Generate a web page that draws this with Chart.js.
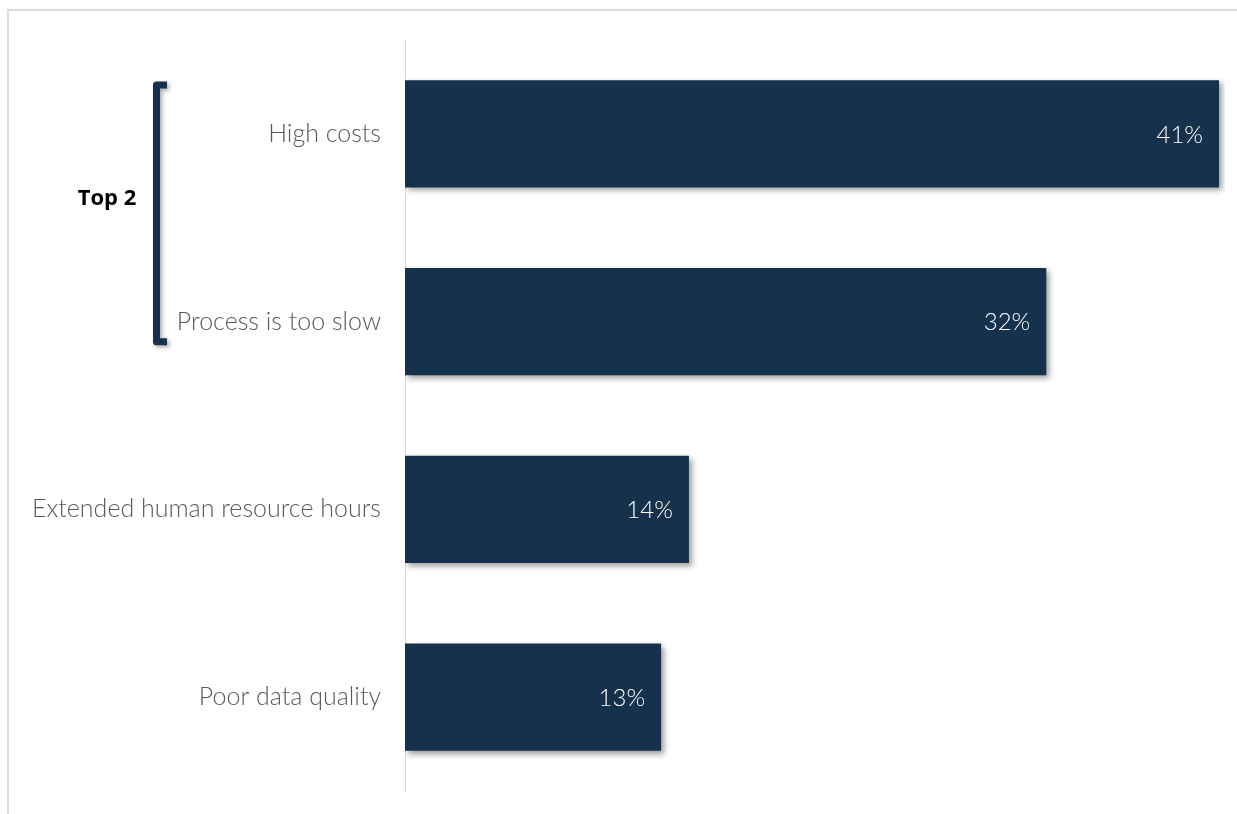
<!DOCTYPE html>
<html>
<head>
<meta charset="utf-8">
<script src="https://cdn.jsdelivr.net/npm/chart.js@4/dist/chart.umd.min.js"></script>
<style>
    html, body { margin: 0; padding: 0; background: #fff; overflow: hidden; }
    #frame { position: absolute; left: 7px; top: 9px; width: 1300px; height: 900px; border: 2px solid #dcdcdc; }
    #wrap { position: absolute; left: 0; top: 0; width: 1237px; height: 814px; }
    canvas { display: block; }
</style>
</head>
<body>
<div id="frame"></div>
<div id="wrap"><canvas id="chart" width="1237" height="814"></canvas></div>
<script>
const categories = ['High costs', 'Process is too slow', 'Extended human resource hours', 'Poor data quality'];
const shares = [41, 32.3, 14.3, 12.9];
const valueLabels = ['41%', '32%', '14%', '13%'];
const groupLabel = 'Top 2';

const navy = '#15314b';
const labelFont = '"Lato", "Open Sans", sans-serif';

// drop shadow under the bars
const shadowPlugin = {
    id: 'shadow',
    beforeDatasetsDraw(chart) {
        const ctx = chart.ctx;
        ctx.save();
        ctx.shadowColor = 'rgba(0,0,0,0.4)';
        ctx.shadowBlur = 6;
        ctx.shadowOffsetX = 3;
        ctx.shadowOffsetY = 3;
    },
    afterDatasetsDraw(chart) {
        chart.ctx.restore();
    }
};

// value labels inside the bar ends
const valuePlugin = {
    id: 'values',
    afterDatasetsDraw(chart) {
        const ctx = chart.ctx;
        const meta = chart.getDatasetMeta(0);
        ctx.save();
        ctx.fillStyle = '#ffffff';
        ctx.font = '300 24px ' + labelFont;
        ctx.textAlign = 'right';
        ctx.textBaseline = 'middle';
        meta.data.forEach((bar, i) => {
            ctx.fillText(valueLabels[i], bar.x - 16, bar.y + 1);
        });
        ctx.restore();
    }
};

// "Top 2" bracket around the first two categories
const bracketPlugin = {
    id: 'bracket',
    afterDraw(chart) {
        const ctx = chart.ctx;
        const y = chart.scales.y;
        const top = y.getPixelForValue(0) - 49;
        const bottom = y.getPixelForValue(1) + 20;
        const x = 156.5, tab = 167;
        ctx.save();
        ctx.shadowColor = 'rgba(0,0,0,0.35)';
        ctx.shadowBlur = 4;
        ctx.shadowOffsetX = 2;
        ctx.shadowOffsetY = 2;
        ctx.strokeStyle = navy;
        ctx.lineWidth = 7;
        ctx.lineJoin = 'round';
        ctx.beginPath();
        ctx.moveTo(tab, top);
        ctx.lineTo(x, top);
        ctx.lineTo(x, bottom);
        ctx.lineTo(tab, bottom);
        ctx.stroke();
        ctx.restore();

        ctx.save();
        ctx.fillStyle = '#000';
        ctx.font = 'bold 22px "Open Sans", sans-serif';
        ctx.textAlign = 'center';
        ctx.textBaseline = 'middle';
        ctx.fillText(groupLabel, 107, (top + bottom) / 2 - 15);
        ctx.restore();
    }
};

new Chart(document.getElementById('chart'), {
    type: 'bar',
    data: {
        labels: categories,
        datasets: [{
            data: shares,
            backgroundColor: navy,
            borderWidth: 0,
            categoryPercentage: 1,
            barPercentage: 0.57
        }]
    },
    options: {
        indexAxis: 'y',
        responsive: false,
        animation: false,
        layout: { padding: { top: 40, bottom: 23, right: 12, left: 0 } },
        plugins: {
            legend: { display: false },
            tooltip: { enabled: false }
        },
        scales: {
            x: {
                display: false,
                min: 0,
                max: 41.3
            },
            y: {
                grid: { display: false, drawTicks: false },
                border: { display: true, color: '#d9d9d9', width: 1 },
                ticks: {
                    color: '#595959',
                    padding: 24,
                    font: { family: labelFont, size: 25, weight: '300' }
                },
                afterFit(scale) {
                    scale.width = 405;
                    scale.paddingTop = 0;
                    scale.paddingBottom = 0;
                }
            }
        }
    },
    plugins: [shadowPlugin, valuePlugin, bracketPlugin]
});
</script>
</body>
</html>
